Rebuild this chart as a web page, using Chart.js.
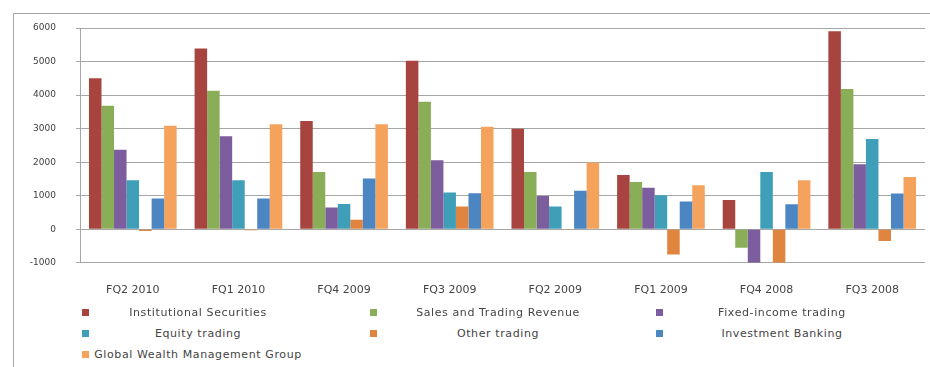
<!DOCTYPE html>
<html>
<head>
<meta charset="utf-8">
<script src="https://cdn.jsdelivr.net/npm/chart.js@4.4.1/dist/chart.umd.min.js"></script>
<style>
  body { margin: 0; background: #fff; width: 930px; height: 367px; overflow: hidden; position: relative; font-family: "DejaVu Sans", sans-serif; }
  #frame { position: absolute; left: 13px; top: 13px; width: 930px; height: 400px; border-left: 1px solid #a6a6a6; border-top: 1px solid #a6a6a6; }
  #wrap { position: absolute; left: 0; top: 0; width: 930px; height: 310px; }
  #legend { position: absolute; left: 0; top: 305px; width: 930px; }
  .item { position: absolute; height: 16px; font-size: 11px; letter-spacing: 0.6px; color: #444; line-height: 16px; }
  .item .box { position: absolute; left: 0; top: 4px; width: 7px; height: 7px; }
  .item .txt { position: absolute; white-space: nowrap; transform: translateX(-50%); }
</style>
</head>
<body>
<div id="frame"></div>
<div id="wrap"><canvas id="chart"></canvas></div>
<div id="legend"></div>
<script>
// Morgan Stanley segment revenue by fiscal quarter ($M)

const quarters = ['FQ2 2010', 'FQ1 2010', 'FQ4 2009', 'FQ3 2009', 'FQ2 2009', 'FQ1 2009', 'FQ4 2008', 'FQ3 2008'];
const yTicks = [-1000, 0, 1000, 2000, 3000, 4000, 5000, 6000];

const institutional   = [4500, 5390, 3230, 5020, 3000, 1620,   875, 5900];
const salesTrading    = [3680, 4130, 1710, 3800, 1710, 1410,  -550, 4180];
const fixedIncome     = [2370, 2770,  650, 2060,  995, 1240, -1000, 1940];
const equityTrading   = [1460, 1460,  750, 1095,  680, 1015,  1710, 2690];
const otherTrading    = [ -50,  -30,  280,  680,  -20, -750, -1000, -350];
const investmentBank  = [ 915,  915, 1510, 1075, 1145,  825,   745, 1065];
const wealthMgmt      = [3085, 3130, 3130, 3055, 1990, 1310,  1460, 1560];

const SERIES = [
  { label: 'Institutional Securities',        data: institutional,  color: '#a8443f' },
  { label: 'Sales and Trading Revenue',       data: salesTrading,   color: '#8aae57' },
  { label: 'Fixed-income trading',            data: fixedIncome,    color: '#7c5e9e' },
  { label: 'Equity trading',                  data: equityTrading,  color: '#3f9fb8' },
  { label: 'Other trading',                   data: otherTrading,   color: '#e0853f' },
  { label: 'Investment Banking',              data: investmentBank, color: '#4b85c2' },
  { label: 'Global Wealth Management Group',  data: wealthMgmt,     color: '#f5a25c' }
];

// legend laid out like the Excel one: 3 columns, filled row by row,
// label text centred at `mid` (offset from the marker)
const LEGEND_COLS = [
  { x: 82,  mid: 116 },
  { x: 370, mid: 128 },
  { x: 656, mid: 126 }
];

const legendEl = document.getElementById('legend');
SERIES.forEach((s, i) => {
  const col = LEGEND_COLS[i % 3];
  const row = Math.floor(i / 3);
  const el = document.createElement('div');
  el.className = 'item';
  el.style.left = col.x + 'px';
  el.style.top = (row * 21) + 'px';
  el.innerHTML = `<span class="box" style="background:${s.color}"></span>` +
    `<span class="txt" style="left:${col.mid}px">${s.label}</span>`;
  legendEl.appendChild(el);
});

const ctx = document.getElementById('chart').getContext('2d');
new Chart(ctx, {
  type: 'bar',
  data: {
    labels: quarters,
    datasets: SERIES.map(s => ({
      label: s.label,
      data: s.data,
      backgroundColor: s.color,
      borderWidth: 0,
      categoryPercentage: 0.83,
      barPercentage: 1.0
    }))
  },
  options: {
    responsive: true,
    maintainAspectRatio: false,
    animation: false,
    layout: { padding: { left: 20, top: 28, right: 5, bottom: 0 } },
    plugins: {
      legend: { display: false },
      tooltip: { enabled: false }
    },
    scales: {
      x: {
        grid: { display: false },
        border: { display: false },
        ticks: {
          padding: 13,
          maxRotation: 0,
          color: '#444',
          font: { family: 'DejaVu Sans', size: 11 }
        }
      },
      y: {
        min: -1000,
        max: 6000,
        afterFit: scale => { scale.width = 60; },
        afterBuildTicks: scale => { scale.ticks = yTicks.map(v => ({ value: v })); },
        grid: { color: '#a6a6a6', lineWidth: 1, tickLength: 4 },
        border: { display: true, color: '#a6a6a6' },
        ticks: {
          padding: 20,
          color: '#404040',
          font: { family: 'DejaVu Sans', size: 9 },
          callback: v => String(v)
        }
      }
    }
  }
});
</script>
</body>
</html>
